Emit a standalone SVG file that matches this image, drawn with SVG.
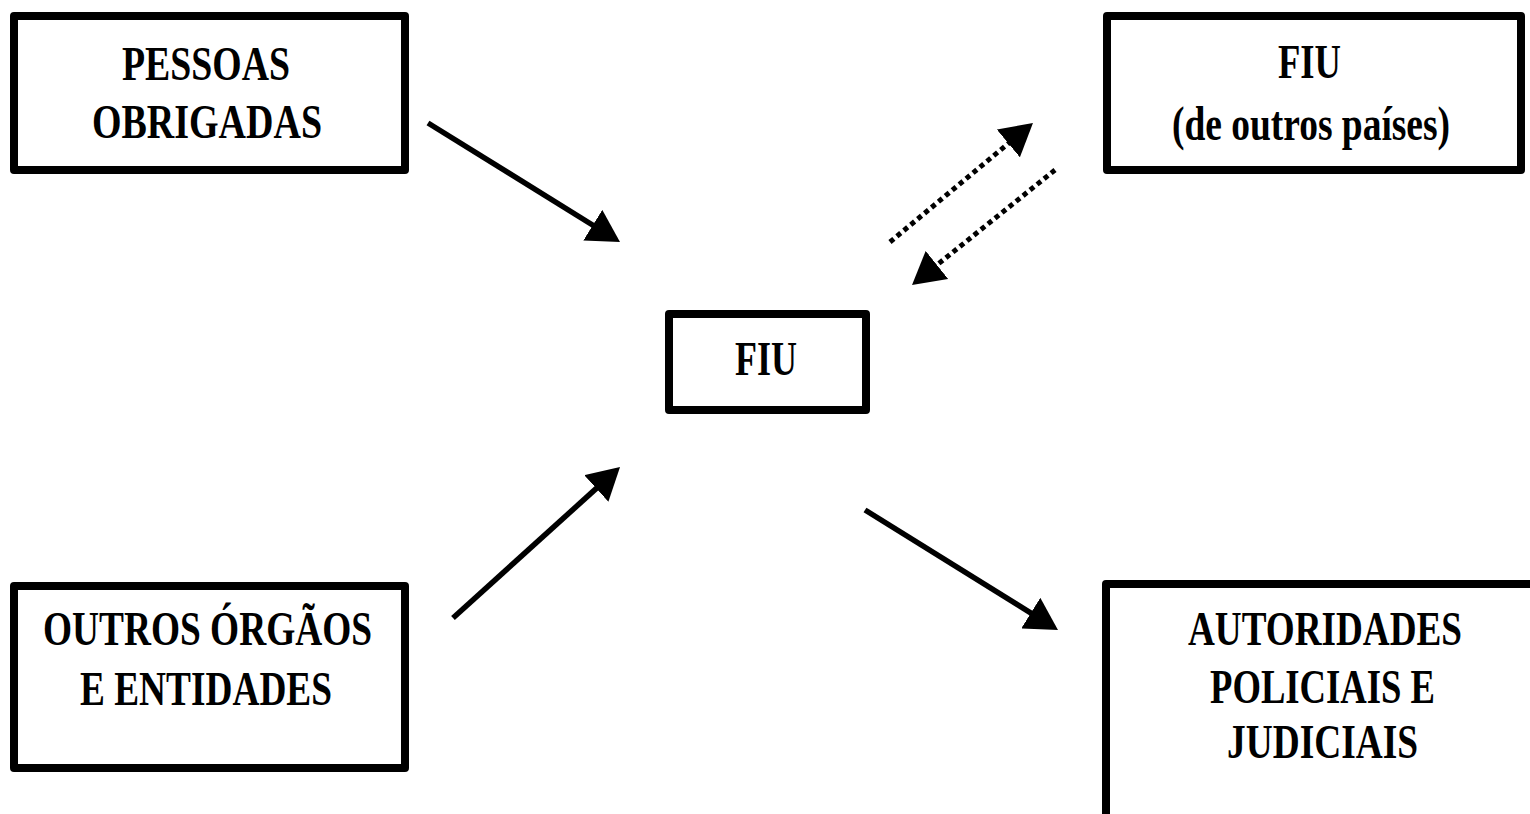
<svg xmlns="http://www.w3.org/2000/svg" width="1530" height="814" viewBox="0 0 1530 814">
<style>
.box{fill:#fff;stroke:#000;stroke-width:8;stroke-linejoin:round}
.lbl{font-family:"Liberation Serif","Times New Roman",serif;font-weight:bold;font-size:48px;fill:#000}
.arr{fill:none;stroke:#000;stroke-width:5.5;marker-end:url(#head)}
.dot{fill:none;stroke:#000;stroke-width:5;stroke-dasharray:5 4;marker-end:url(#head)}
</style>
<defs>
<marker id="head" markerUnits="userSpaceOnUse" viewBox="0 0 32 36" refX="12" refY="18" markerWidth="32" markerHeight="36" orient="auto">
<path d="M0,0 L32,18 L0,36 z" fill="#000"/>
</marker>
</defs>
<rect width="1530" height="814" fill="#fff"/>
<g id="connectors">
<path class="arr" d="M428,123 L603,231.5"/>
<path class="arr" d="M453,618 L605.2,480.4"/>
<path class="arr" d="M865,510 L1041,619.4"/>
<path class="dot" d="M890,242 L1017.6,135.8"/>
<path class="dot" d="M1055,170 L927.6,272.5"/>
</g>
<g id="pessoas">
<rect class="box" x="14" y="16" width="391" height="154"/>
<text class="lbl" x="122" y="80" textLength="168" lengthAdjust="spacingAndGlyphs">PESSOAS</text>
<text class="lbl" x="92" y="138" textLength="230" lengthAdjust="spacingAndGlyphs">OBRIGADAS</text>
</g>
<g id="fiu">
<rect class="box" x="669" y="314" width="197" height="96"/>
<text class="lbl" x="735" y="375" textLength="62" lengthAdjust="spacingAndGlyphs">FIU</text>
</g>
<g id="fiu-outros">
<rect class="box" x="1107" y="16" width="414" height="154"/>
<text class="lbl" x="1278" y="78" textLength="63" lengthAdjust="spacingAndGlyphs">FIU</text>
<text class="lbl" x="1172" y="140" textLength="278" lengthAdjust="spacingAndGlyphs">(de outros países)</text>
</g>
<g id="outros">
<rect class="box" x="14" y="586" width="391" height="182"/>
<text class="lbl" x="43" y="645" textLength="329" lengthAdjust="spacingAndGlyphs">OUTROS ÓRGÃOS</text>
<text class="lbl" x="80" y="705" textLength="252" lengthAdjust="spacingAndGlyphs">E ENTIDADES</text>
</g>
<g id="autoridades">
<rect class="box" x="1106" y="584" width="440" height="250"/>
<text class="lbl" x="1188" y="645" textLength="274" lengthAdjust="spacingAndGlyphs">AUTORIDADES</text>
<text class="lbl" x="1210" y="703" textLength="225" lengthAdjust="spacingAndGlyphs">POLICIAIS E</text>
<text class="lbl" x="1227" y="758" textLength="191" lengthAdjust="spacingAndGlyphs">JUDICIAIS</text>
</g>
</svg>
